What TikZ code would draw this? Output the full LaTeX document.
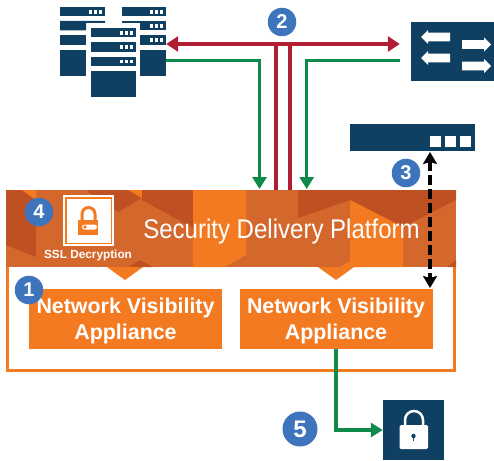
\documentclass[tikz,border=0pt]{standalone}
\usepackage{fontspec}
\setmainfont{Liberation Sans}
\usetikzlibrary{arrows.meta}
\definecolor{navy}{HTML}{0F3F61}
\definecolor{org}{HTML}{F47A22}
\definecolor{orgmid}{HTML}{D4672B}
\definecolor{orgdark}{HTML}{BE5022}
\definecolor{redl}{HTML}{B01E33}
\definecolor{greenl}{HTML}{0E8A4A}
\definecolor{badge}{HTML}{3D74BC}
\tikzset{
 srv/.style={fill=navy,draw=none},
 led/.style={fill=white,draw=none},
 redline/.style={draw=redl,line width=3.7pt},
 greenline/.style={draw=greenl,line width=3.5pt},
 numbadge/.style={circle,fill=badge,text=white,font=\bfseries\fontsize{20}{20}\selectfont,inner sep=0pt,minimum size=28.5pt},
 appl/.style={fill=org,text=white,font=\bfseries\fontsize{21.4}{26}\selectfont,align=center,minimum width=193pt,minimum height=60pt,inner sep=0pt},
 gtip/.style={-{Triangle[length=12pt,width=14pt]}},
 anchorpt/.style={inner sep=0pt,minimum size=0pt},
}
\newcommand{\rackunit}[3]{% x, y, width
  \fill[srv] (#1,#2) rectangle ++(#3,9.5);
  \fill[led] (#1+#3-16,#2+3) rectangle ++(3.4,3.6);
  \fill[led] (#1+#3-11,#2+3) rectangle ++(3.4,3.6);
  \fill[led] (#1+#3-6,#2+3) rectangle ++(3.4,3.6);}
\begin{document}
\begin{tikzpicture}[x=1pt,y=-1pt]
\useasboundingbox (0,0) rectangle (494,460);
% servers
\rackunit{60}{7}{45}
\fill[srv] (60,21) rectangle (86,30.5) (86,21) rectangle (105,23);
\fill[srv] (60,35) rectangle (86,45);
\fill[srv] (60,50) rectangle (86,76);
\rackunit{122}{7}{44}
\fill[srv] (122,21) rectangle (140,23);
\rackunit{140}{21}{26}
\rackunit{140}{35.5}{26}
\fill[srv] (140,50) rectangle (166,76);
\rackunit{91}{28}{44.5}
\rackunit{91}{42.5}{44.5}
\rackunit{91}{56.5}{44.5}
\fill[srv] (91,71) rectangle (135.5,97);
\node[anchorpt] (srvL) at (166,44) {};
\node[anchorpt] (srvG) at (166,60.5) {};
% switch
\fill[navy] (411,22) rectangle (494,81);
\foreach \y in {37,58}{
 \fill[white] (421,\y) -- (428,\y-7) -- (428,\y-4.3) -- (450,\y-4.3) -- (450,\y+4.3) -- (428,\y+4.3) -- (428,\y+7) -- cycle;}
\foreach \y in {44.5,66}{
 \fill[white] (491,\y) -- (484,\y-7) -- (484,\y-4.3) -- (462,\y-4.3) -- (462,\y+4.3) -- (484,\y+4.3) -- (484,\y+7) -- cycle;}
\node[anchorpt] (swR) at (400,44) {};
\node[anchorpt] (swG) at (400,60.5) {};
% device
\fill[navy] (350,124) rectangle (475,151);
\foreach \x in {430,445,460}{\fill[white] (\x,136) rectangle ++(11,10.5);}
% platform
\draw[org,line width=3pt,fill=white] (7.5,191) rectangle (454.5,370);
\fill[orgmid] (6,190) rectangle (456,267);
\fill[orgdark] (6,190) -- (22,190) -- (36,200) -- (36,257) -- (6,245) -- cycle;
\fill[org] (22,190) -- (36,190) -- (36,200) -- cycle;
\fill[orgdark] (88,190) -- (142,190) -- (142,198) -- (118,212) -- (88,192) -- cycle;
\fill[org] (128,190) -- (142,190) -- (142,198) -- cycle;
\fill[orgdark] (142,190) -- (193,190) -- (193,228) -- (142,200) -- cycle;
\fill[org] (193,190) -- (246,190) -- (246,255) -- (225,267) -- (193,267) -- cycle;
\fill[orgdark] (298,190) -- (456,190) -- (456,200) -- (403,227) -- (350,200) -- (298,218) -- cycle;
\fill[org] (350,200) -- (403,227) -- (403,267) -- (350,267) -- cycle;
\fill[orgdark] (447,267) -- (456,260) -- (456,267) -- cycle;
\fill[orgdark] (128,267) -- (140,260) -- (153,267) -- cycle;
\fill[org] (340,267) -- (352,260) -- (362,267) -- cycle;
% chevrons
\fill[org] (107,267) -- (143,267) -- (125,280) -- cycle;
\fill[org] (318,267) -- (354,267) -- (336,280) -- cycle;
% title
\node[anchorpt,anchor=base,text=white,font=\fontsize{27}{27}\selectfont,xscale=0.89] (title) at (281.5,238) {Security Delivery Platform};
% SSL icon
\fill[white] (63,195) rectangle (114,246);
\fill[org] (65,197) rectangle (112,244);
\fill[white] (66.5,198.5) rectangle (110.5,242.5);
\draw[org,line width=3pt] (82,222) -- (82,214) arc[start angle=180,end angle=360,radius=6.5] -- (95,222);
\fill[org] (78,220) rectangle (98,235);
\fill[white,rounded corners=2.5pt] (82,224.5) rectangle (97,229.5);
\fill[org] (85,227) circle (1.8pt);
\node[text=white,font=\bfseries\fontsize{11.8}{12}\selectfont,inner sep=0pt] (ssl) at (88,255) {SSL Decryption};
% appliances
\node[appl] (a1) at (125.5,319) {\rule{0pt}{20pt}Network Visibility\\Appliance};
\node[appl] (a2) at (336,319) {\rule{0pt}{20pt}Network Visibility\\Appliance};
% lock
\fill[navy] (383,400) rectangle (444,460);
\draw[white,line width=2.5pt] (405,427) -- (405,420) arc[start angle=180,end angle=360,radius=9] -- (423,427);
\fill[white,rounded corners=1.5pt] (399.5,425) rectangle (428,449);
\fill[navy] (413.5,436) circle (2.2pt);
\fill[navy] (412.7,436) rectangle (414.3,441);
\node[anchorpt] (lockbox) at (383,430) {};
% connectors
\coordinate (rj1) at (276,44);
\coordinate (rj2) at (290,44);
\coordinate (pf1) at (276,190);
\coordinate (pf2) at (290,190);
\coordinate (pg1) at (259.5,189);
\coordinate (pg2) at (306.7,189);
\draw[redline] (rj1) -- (pf1);
\draw[redline] (rj2) -- (pf2);
\draw[redline,{Triangle[length=12pt,width=15pt]}-{Triangle[length=12pt,width=15pt]}] (srvL) -- (swR);
\draw[greenline,gtip] (srvG) -| (pg1);
\draw[greenline,gtip] (swG) -| (pg2);
\coordinate (dtop) at (430,152);
\coordinate (dbot) at (430,288);
\draw[black,line width=3.5pt,dash pattern=on 10pt off 4pt,{Stealth[length=12pt,width=14pt,inset=2pt]}-{Stealth[length=12pt,width=14pt,inset=2pt]}] (dtop) -- (dbot);
\draw[greenline,gtip] (a2.south) |- (lockbox);
% badges
\node[numbadge] (b1) at (29,290) {1};
\node[numbadge] (b2) at (282,22) {2};
\node[numbadge] (b3) at (406,173) {3};
\node[numbadge] (b4) at (39,212) {4};
\node[numbadge,minimum size=35pt,font=\bfseries\fontsize{24}{24}\selectfont] (b5) at (300,429) {5};
\end{tikzpicture}
\end{document}
